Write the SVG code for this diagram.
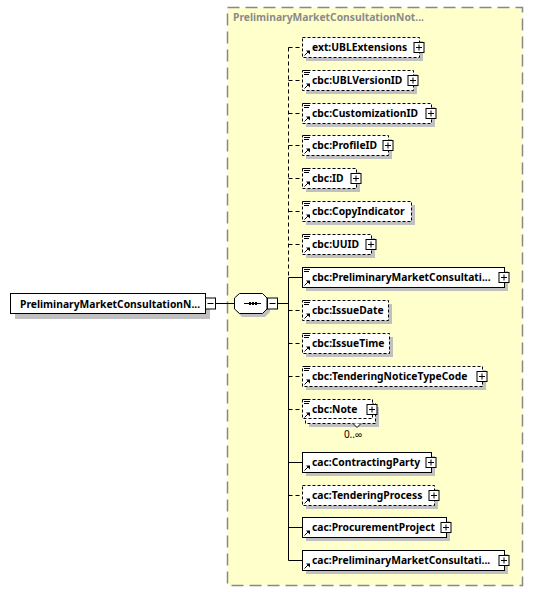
<svg xmlns="http://www.w3.org/2000/svg" width="533" height="592" viewBox="0 0 533 592">
<style>
.box{fill:#fff;stroke:#000;stroke-width:1}
.dash{stroke-dasharray:3 2}
.shadow{fill:#c0c0c0}
.lbl{font-family:"Noto Sans","Liberation Sans",Arial,sans-serif;font-weight:bold;font-size:10.3px;fill:#000}
.title{font-family:"Noto Sans","Liberation Sans",Arial,sans-serif;font-weight:bold;font-size:10.3px;fill:#8a8a8a}
.btn{fill:#fff;stroke:#000;stroke-width:1}
.ic{stroke:#000;stroke-width:1;fill:none}
.con{stroke:#000;stroke-width:1;fill:none}
.cdash{stroke-dasharray:4 3}
.occ{font-family:"Noto Sans","Liberation Sans",Arial,sans-serif;font-size:10px;fill:#000}
</style>
<defs>
<g id="plus"><rect class="btn" x="-5" y="-5" width="10" height="10"/><path class="ic" d="M-3,0H3M0,-3V3"/></g>
<g id="minus"><rect class="btn" x="-5" y="-5.5" width="10" height="11"/><path class="ic" d="M-3,0H3"/></g>
<g id="lines"><path class="ic" d="M304,0.5h6M304,2.5h6M304,4.5h5"/></g>
<g id="arrow"><path class="ic" d="M304.5,18.5L308,15"/><polygon points="306,13.5 310,13.5 310,17.5" fill="#000"/></g>
</defs>

<rect x="227.5" y="7.5" width="295" height="578" fill="#ffffcc" stroke="#888" stroke-width="1.5" stroke-dasharray="12 6"/>
<text class="title" x="233" y="21">PreliminaryMarketConsultationNot...</text>

<g id="connectors">
<path class="con" d="M215.5,303.5H234"/>
<path class="con" d="M277.5,303.5H288.5"/>
<path class="con cdash" d="M288.5,47.5V277.5"/>
<path class="con" d="M288.5,277.5V560.5"/>
<path class="con cdash" d="M288.5,47.5H302"/>
<path class="con cdash" d="M288.5,80.5H302"/>
<path class="con cdash" d="M288.5,113.5H302"/>
<path class="con cdash" d="M288.5,145.5H302"/>
<path class="con cdash" d="M288.5,178.5H302"/>
<path class="con cdash" d="M288.5,211.5H302"/>
<path class="con cdash" d="M288.5,244.5H302"/>
<path class="con" d="M288.5,277.5H302"/>
<path class="con cdash" d="M288.5,310.5H302"/>
<path class="con cdash" d="M288.5,343.5H302"/>
<path class="con cdash" d="M288.5,376.5H302"/>
<path class="con cdash" d="M288.5,409.5H302"/>
<path class="con" d="M288.5,462.5H302"/>
<path class="con cdash" d="M288.5,495.5H302"/>
<path class="con" d="M288.5,527.5H302"/>
<path class="con" d="M288.5,560.5H302"/>
</g>

<g id="root">
<rect class="shadow" x="15" y="298" width="195" height="21"/>
<rect class="box" x="10.5" y="293.5" width="195" height="20"/>
<text class="lbl" x="20" y="307.5">PreliminaryMarketConsultationN...</text>
<use href="#minus" x="210.5" y="303.5"/>
</g>

<g id="sequence">
<polygon class="shadow" points="242,297 265,297 270,302 270,312 265,317 242,317 237,312 237,302"/>
<polygon class="box" points="239.5,293.5 262.5,293.5 267,298 267,309 262.5,313.5 239.5,313.5 234.5,309 234.5,298"/>
<path class="ic" d="M244,303.5H261"/>
<rect x="249" y="302" width="2" height="3" fill="#000"/>
<rect x="252" y="302" width="2" height="3" fill="#000"/>
<rect x="255" y="302" width="2" height="3" fill="#000"/>
<use href="#minus" x="272.5" y="303.5"/>
</g>

<g id="n1" transform="translate(0,37)">
<rect class="shadow" x="306" y="4" width="117" height="20"/>
<rect class="box dash" x="302.5" y="0.5" width="117" height="20"/>
<use href="#arrow"/>
<text class="lbl" x="312" y="14">ext:UBLExtensions</text>
<use href="#plus" x="419" y="10.5"/>
</g>

<g id="n2" transform="translate(0,70)">
<rect class="shadow" x="306" y="4" width="111" height="20"/>
<rect class="box dash" x="302.5" y="0.5" width="111" height="20"/>
<use href="#lines"/><use href="#arrow"/>
<text class="lbl" x="312" y="14">cbc:UBLVersionID</text>
<use href="#plus" x="413" y="10.5"/>
</g>

<g id="n3" transform="translate(0,103)">
<rect class="shadow" x="306" y="4" width="129" height="20"/>
<rect class="box dash" x="302.5" y="0.5" width="129" height="20"/>
<use href="#lines"/><use href="#arrow"/>
<text class="lbl" x="312" y="14">cbc:CustomizationID</text>
<use href="#plus" x="431" y="10.5"/>
</g>

<g id="n4" transform="translate(0,135)">
<rect class="shadow" x="306" y="4" width="86" height="20"/>
<rect class="box dash" x="302.5" y="0.5" width="86" height="20"/>
<use href="#lines"/><use href="#arrow"/>
<text class="lbl" x="312" y="14">cbc:ProfileID</text>
<use href="#plus" x="388" y="10.5"/>
</g>

<g id="n5" transform="translate(0,168)">
<rect class="shadow" x="306" y="4" width="54" height="20"/>
<rect class="box dash" x="302.5" y="0.5" width="54" height="20"/>
<use href="#lines"/><use href="#arrow"/>
<text class="lbl" x="312" y="14">cbc:ID</text>
<use href="#plus" x="356" y="10.5"/>
</g>

<g id="n6" transform="translate(0,201)">
<rect class="shadow" x="306" y="4" width="109" height="20"/>
<rect class="box dash" x="302.5" y="0.5" width="109" height="20"/>
<use href="#lines"/><use href="#arrow"/>
<text class="lbl" x="312" y="14">cbc:CopyIndicator</text>
</g>

<g id="n7" transform="translate(0,234)">
<rect class="shadow" x="306" y="4" width="69" height="20"/>
<rect class="box dash" x="302.5" y="0.5" width="69" height="20"/>
<use href="#lines"/><use href="#arrow"/>
<text class="lbl" x="312" y="14">cbc:UUID</text>
<use href="#plus" x="371" y="10.5"/>
</g>

<g id="n8" transform="translate(0,267)">
<rect class="shadow" x="306" y="4" width="202" height="20"/>
<rect class="box" x="302.5" y="0.5" width="202" height="20"/>
<use href="#lines"/><use href="#arrow"/>
<text class="lbl" x="312" y="14">cbc:PreliminaryMarketConsultati...</text>
<use href="#plus" x="504" y="10.5"/>
</g>

<g id="n9" transform="translate(0,300)">
<rect class="shadow" x="306" y="4" width="86" height="20"/>
<rect class="box dash" x="302.5" y="0.5" width="86" height="20"/>
<use href="#lines"/><use href="#arrow"/>
<text class="lbl" x="312" y="14">cbc:IssueDate</text>
</g>

<g id="n10" transform="translate(0,333)">
<rect class="shadow" x="306" y="4" width="87" height="20"/>
<rect class="box dash" x="302.5" y="0.5" width="87" height="20"/>
<use href="#lines"/><use href="#arrow"/>
<text class="lbl" x="312" y="14">cbc:IssueTime</text>
</g>

<g id="n11" transform="translate(0,366)">
<rect class="shadow" x="306" y="4" width="180" height="20"/>
<rect class="box dash" x="302.5" y="0.5" width="180" height="20"/>
<use href="#lines"/><use href="#arrow"/>
<text class="lbl" x="312" y="14">cbc:TenderingNoticeTypeCode</text>
<use href="#plus" x="482" y="10.5"/>
</g>

<g id="n12" transform="translate(0,399)">
<rect class="shadow" x="309" y="8" width="70" height="20"/>
<rect class="box dash" x="305.5" y="4.5" width="70" height="20"/>
<path d="M353,24.5L357,28.5L361,24.5" fill="#fff" stroke="#000" stroke-width="1"/>
<rect class="box dash" x="302.5" y="0.5" width="70" height="19"/>
<use href="#lines"/><use href="#arrow"/>
<text class="lbl" x="312" y="14">cbc:Note</text>
<use href="#plus" x="372" y="10.5"/>
<text class="occ" x="353" y="39" text-anchor="middle">0..∞</text>
</g>

<g id="n13" transform="translate(0,452)">
<rect class="shadow" x="306" y="4" width="129" height="20"/>
<rect class="box" x="302.5" y="0.5" width="129" height="20"/>
<use href="#arrow"/>
<text class="lbl" x="312" y="14">cac:ContractingParty</text>
<use href="#plus" x="431" y="10.5"/>
</g>

<g id="n14" transform="translate(0,485)">
<rect class="shadow" x="306" y="4" width="132" height="20"/>
<rect class="box dash" x="302.5" y="0.5" width="132" height="20"/>
<use href="#arrow"/>
<text class="lbl" x="312" y="14">cac:TenderingProcess</text>
<use href="#plus" x="434" y="10.5"/>
</g>

<g id="n15" transform="translate(0,517)">
<rect class="shadow" x="306" y="4" width="144" height="20"/>
<rect class="box" x="302.5" y="0.5" width="144" height="20"/>
<use href="#arrow"/>
<text class="lbl" x="312" y="14">cac:ProcurementProject</text>
<use href="#plus" x="446" y="10.5"/>
</g>

<g id="n16" transform="translate(0,550)">
<rect class="shadow" x="306" y="4" width="202" height="20"/>
<rect class="box" x="302.5" y="0.5" width="202" height="20"/>
<use href="#arrow"/>
<text class="lbl" x="312" y="14">cac:PreliminaryMarketConsultati...</text>
<use href="#plus" x="504" y="10.5"/>
</g>
</svg>
